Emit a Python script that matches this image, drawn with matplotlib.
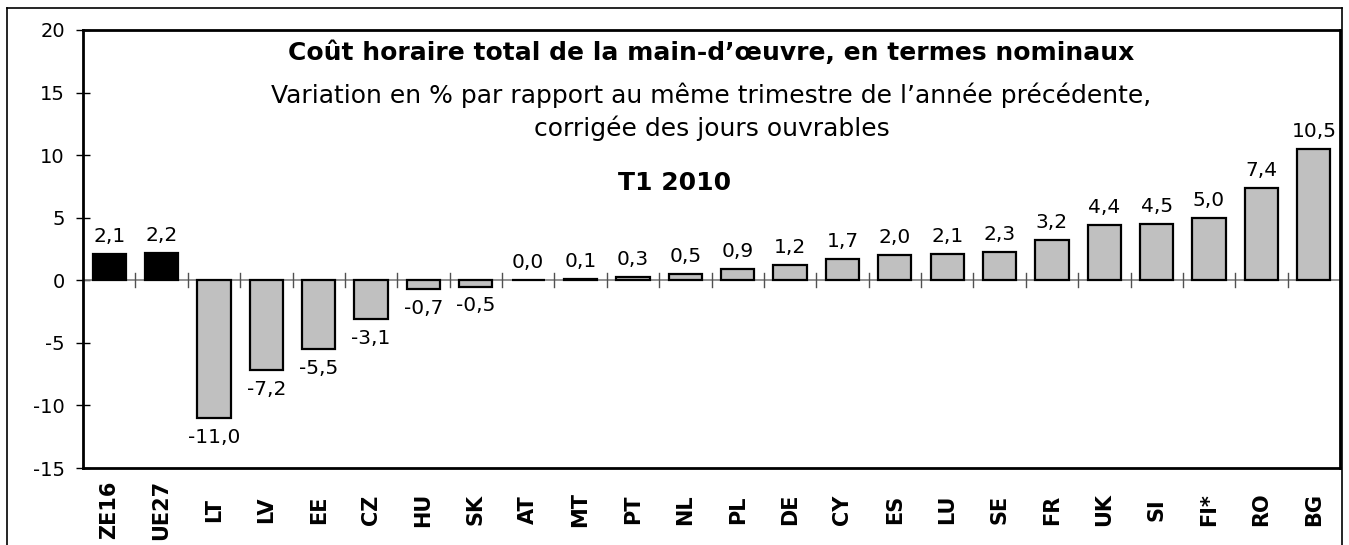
import matplotlib
matplotlib.use("Agg")
import matplotlib.pyplot as plt
from matplotlib.lines import Line2D
import numpy as np

categories = ["ZE16", "UE27", "LT", "LV", "EE", "CZ", "HU", "SK", "AT", "MT", "PT", "NL",
              "PL", "DE", "CY", "ES", "LU", "SE", "FR", "UK", "SI", "FI*", "RO", "BG"]
values = [2.1, 2.2, -11.0, -7.2, -5.5, -3.1, -0.7, -0.5, 0.0, 0.1, 0.3, 0.5,
          0.9, 1.2, 1.7, 2.0, 2.1, 2.3, 3.2, 4.4, 4.5, 5.0, 7.4, 10.5]
highlight = ["ZE16", "UE27"]
yticks = [-15, -10, -5, 0, 5, 10, 15, 20]

plt.rcParams['font.family'] = ['DejaVu Sans']

W, H = 1349, 545
fig = plt.figure(figsize=(W / 100, H / 100), dpi=100)
ax = fig.add_axes([83 / W, (H - 468) / H, (1340 - 83) / W, (468 - 30) / H])

x = np.arange(len(categories))
colors = ["black" if c in highlight else "#c0c0c0" for c in categories]
ax.bar(x, values, width=0.635, color=colors, edgecolor="black", linewidth=1.6, zorder=3)

for xi, v in zip(x, values):
    lab = f"{v:.1f}".replace(".", ",")
    if v >= 0:
        ax.annotate(lab, (xi, v), xytext=(0, 8.5), textcoords="offset points",
                    ha="center", va="baseline", fontsize=14.5)
    else:
        ax.annotate(lab, (xi, v), xytext=(0, -7), textcoords="offset points",
                    ha="center", va="top", fontsize=14.5)

ax.set_xlim(-0.5, len(categories) - 0.5)
ax.set_ylim(-15, 20)
ax.set_yticks(yticks)
ax.set_yticklabels([str(t) for t in yticks], fontsize=14)
ax.tick_params(axis="y", direction="inout", length=10, width=1, pad=8)

ax.set_xticks(x)
ax.set_xticklabels(categories, rotation=90, fontsize=15, fontweight="bold",
                   va="center", ha="center")
ax.tick_params(axis="x", length=0, pad=30)

# zero line with category separators
ax.axhline(0, color="#808080", linewidth=1.2, zorder=2)
for b in np.arange(-0.5, len(categories), 1.0)[1:]:
    ax.plot([b, b], [-0.55, 0.55], color="#505050", linewidth=1, zorder=2)

for s in ax.spines.values():
    s.set_linewidth(2)
    s.set_color("black")

ax.text(0.5, 0.948, "Coût horaire total de la main-d\u2019œuvre, en termes nominaux",
        transform=ax.transAxes, ha="center", va="center", fontsize=18, fontweight="bold")
ax.text(0.5, 0.85, "Variation en % par rapport au même trimestre de l\u2019année précédente,",
        transform=ax.transAxes, ha="center", va="center", fontsize=18)
ax.text(0.5, 0.775, "corrigée des jours ouvrables",
        transform=ax.transAxes, ha="center", va="center", fontsize=18)
ax.text(0.4705, 0.65, "T1 2010",
        transform=ax.transAxes, ha="center", va="center", fontsize=18, fontweight="bold")

# outer border
fx = lambda px: px / W
fy = lambda py: 1 - py / H
fig.add_artist(Line2D([fx(7), fx(1342)], [fy(8), fy(8)], color="black", linewidth=1.2))
fig.add_artist(Line2D([fx(7), fx(7)], [fy(8), fy(560)], color="black", linewidth=1.2))
fig.add_artist(Line2D([fx(1342), fx(1342)], [fy(8), fy(560)], color="black", linewidth=1.2))

fig.savefig("out.png", dpi=100)
